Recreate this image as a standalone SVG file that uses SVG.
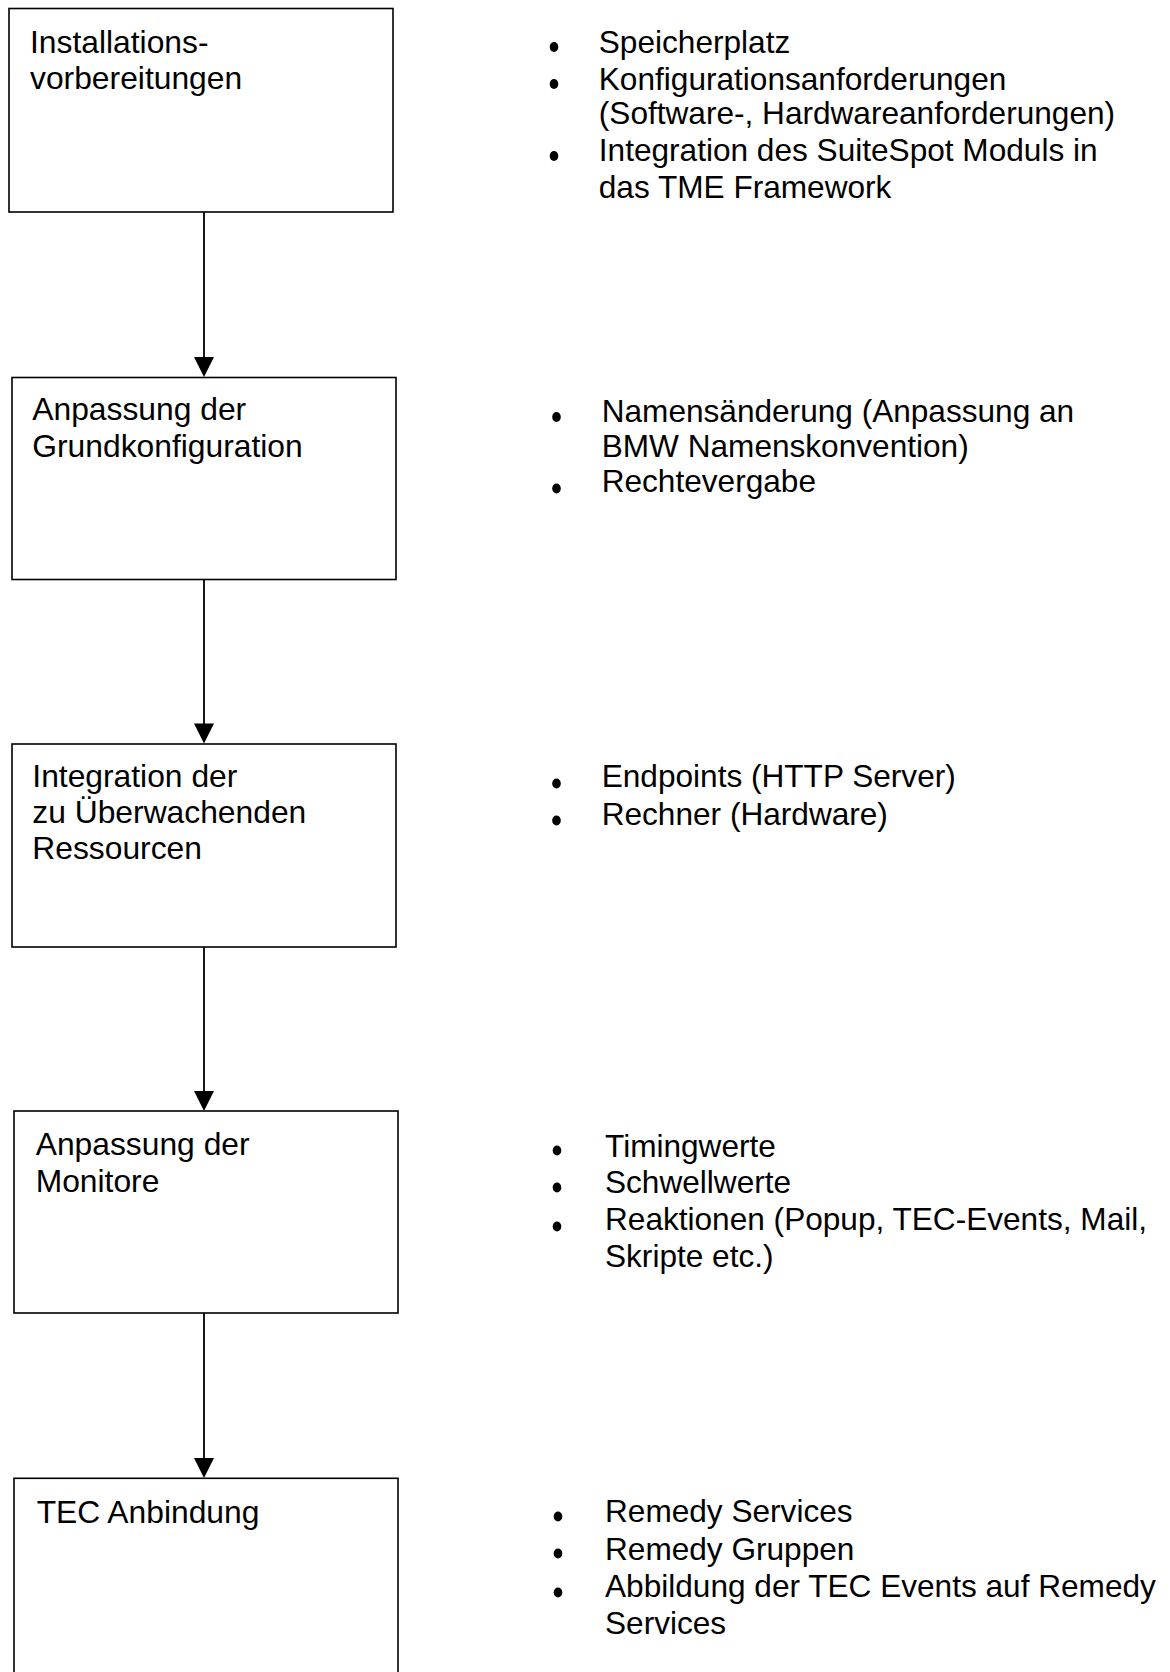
<svg xmlns="http://www.w3.org/2000/svg" width="1170" height="1672" viewBox="0 0 1170 1672">
<style>
.box{fill:#fff;stroke:#000;stroke-width:1.6}
.lt{font-family:"Liberation Sans",Arial,sans-serif;font-size:31.8px;fill:#000}
.rt{font-family:"Liberation Sans",Arial,sans-serif;font-size:31.6px;fill:#000}
.bul{fill:#000}
.con{stroke:#000;stroke-width:1.8;fill:none}
.ah{fill:#000}
</style>
<rect width="1170" height="1672" fill="#fff"/>
<g id="connectors">
<line class="con" x1="204" y1="212" x2="204" y2="358" />
<polygon class="ah" points="194,357 214,357 204,377"/>
<line class="con" x1="204" y1="579" x2="204" y2="724" />
<polygon class="ah" points="194,723.5 214,723.5 204,743.5"/>
<line class="con" x1="204" y1="947" x2="204" y2="1092" />
<polygon class="ah" points="194,1091 214,1091 204,1111"/>
<line class="con" x1="204" y1="1313" x2="204" y2="1459" />
<polygon class="ah" points="194,1458 214,1458 204,1478"/>
</g>
<g id="node1">
<rect class="box" x="9" y="8.5" width="384" height="203.5"/>
<text class="lt" x="30" y="53">Installations-</text>
<text class="lt" x="30" y="89">vorbereitungen</text>
</g>
<g id="list1">
<ellipse class="bul" cx="554" cy="47" rx="4.3" ry="5"/>
<ellipse class="bul" cx="554" cy="84" rx="4.3" ry="5"/>
<ellipse class="bul" cx="554" cy="156" rx="4.3" ry="5"/>
<text class="rt" x="598.8" y="52.5">Speicherplatz</text>
<text class="rt" x="598.8" y="89.5">Konfigurationsanforderungen</text>
<text class="rt" x="598.8" y="124">(Software-, Hardwareanforderungen)</text>
<text class="rt" x="598.8" y="160.5">Integration des SuiteSpot Moduls in</text>
<text class="rt" x="598.8" y="197.5">das TME Framework</text>
</g>
<g id="node2">
<rect class="box" x="12" y="377.5" width="384" height="202"/>
<text class="lt" x="32.3" y="420">Anpassung der</text>
<text class="lt" x="32.3" y="457">Grundkonfiguration</text>
</g>
<g id="list2">
<ellipse class="bul" cx="556.5" cy="417" rx="4.3" ry="5"/>
<ellipse class="bul" cx="556.5" cy="488.5" rx="4.3" ry="5"/>
<text class="rt" x="601.7" y="422">Namensänderung (Anpassung an</text>
<text class="rt" x="601.7" y="457">BMW Namenskonvention)</text>
<text class="rt" x="601.7" y="492">Rechtevergabe</text>
</g>
<g id="node3">
<rect class="box" x="12" y="744" width="384" height="203"/>
<text class="lt" x="32.3" y="787">Integration der</text>
<text class="lt" x="32.3" y="822.5">zu Überwachenden</text>
<text class="lt" x="32.3" y="859">Ressourcen</text>
</g>
<g id="list3">
<ellipse class="bul" cx="556.5" cy="783.5" rx="4.3" ry="5"/>
<ellipse class="bul" cx="556.5" cy="820.5" rx="4.3" ry="5"/>
<text class="rt" x="601.7" y="787">Endpoints (HTTP Server)</text>
<text class="rt" x="601.7" y="825">Rechner (Hardware)</text>
</g>
<g id="node4">
<rect class="box" x="14" y="1111" width="384" height="202"/>
<text class="lt" x="35.7" y="1155">Anpassung der</text>
<text class="lt" x="35.7" y="1191.5">Monitore</text>
</g>
<g id="list4">
<ellipse class="bul" cx="557" cy="1150.5" rx="4.3" ry="5"/>
<ellipse class="bul" cx="557" cy="1187.5" rx="4.3" ry="5"/>
<ellipse class="bul" cx="557" cy="1226.5" rx="4.3" ry="5"/>
<text class="rt" x="605" y="1156.5">Timingwerte</text>
<text class="rt" x="605" y="1193">Schwellwerte</text>
<text class="rt" x="605" y="1230">Reaktionen (Popup, TEC-Events, Mail,</text>
<text class="rt" x="605" y="1267">Skripte etc.)</text>
</g>
<g id="node5">
<rect class="box" x="14" y="1478.3" width="384" height="230"/>
<text class="lt" x="36.7" y="1522.5">TEC Anbindung</text>
</g>
<g id="list5">
<ellipse class="bul" cx="558" cy="1516.5" rx="4.3" ry="5"/>
<ellipse class="bul" cx="558" cy="1553.5" rx="4.3" ry="5"/>
<ellipse class="bul" cx="558" cy="1592.5" rx="4.3" ry="5"/>
<text class="rt" x="605" y="1522">Remedy Services</text>
<text class="rt" x="605" y="1559.5">Remedy Gruppen</text>
<text class="rt" x="605" y="1597">Abbildung der TEC Events auf Remedy</text>
<text class="rt" x="605" y="1633.5">Services</text>
</g>
</svg>
